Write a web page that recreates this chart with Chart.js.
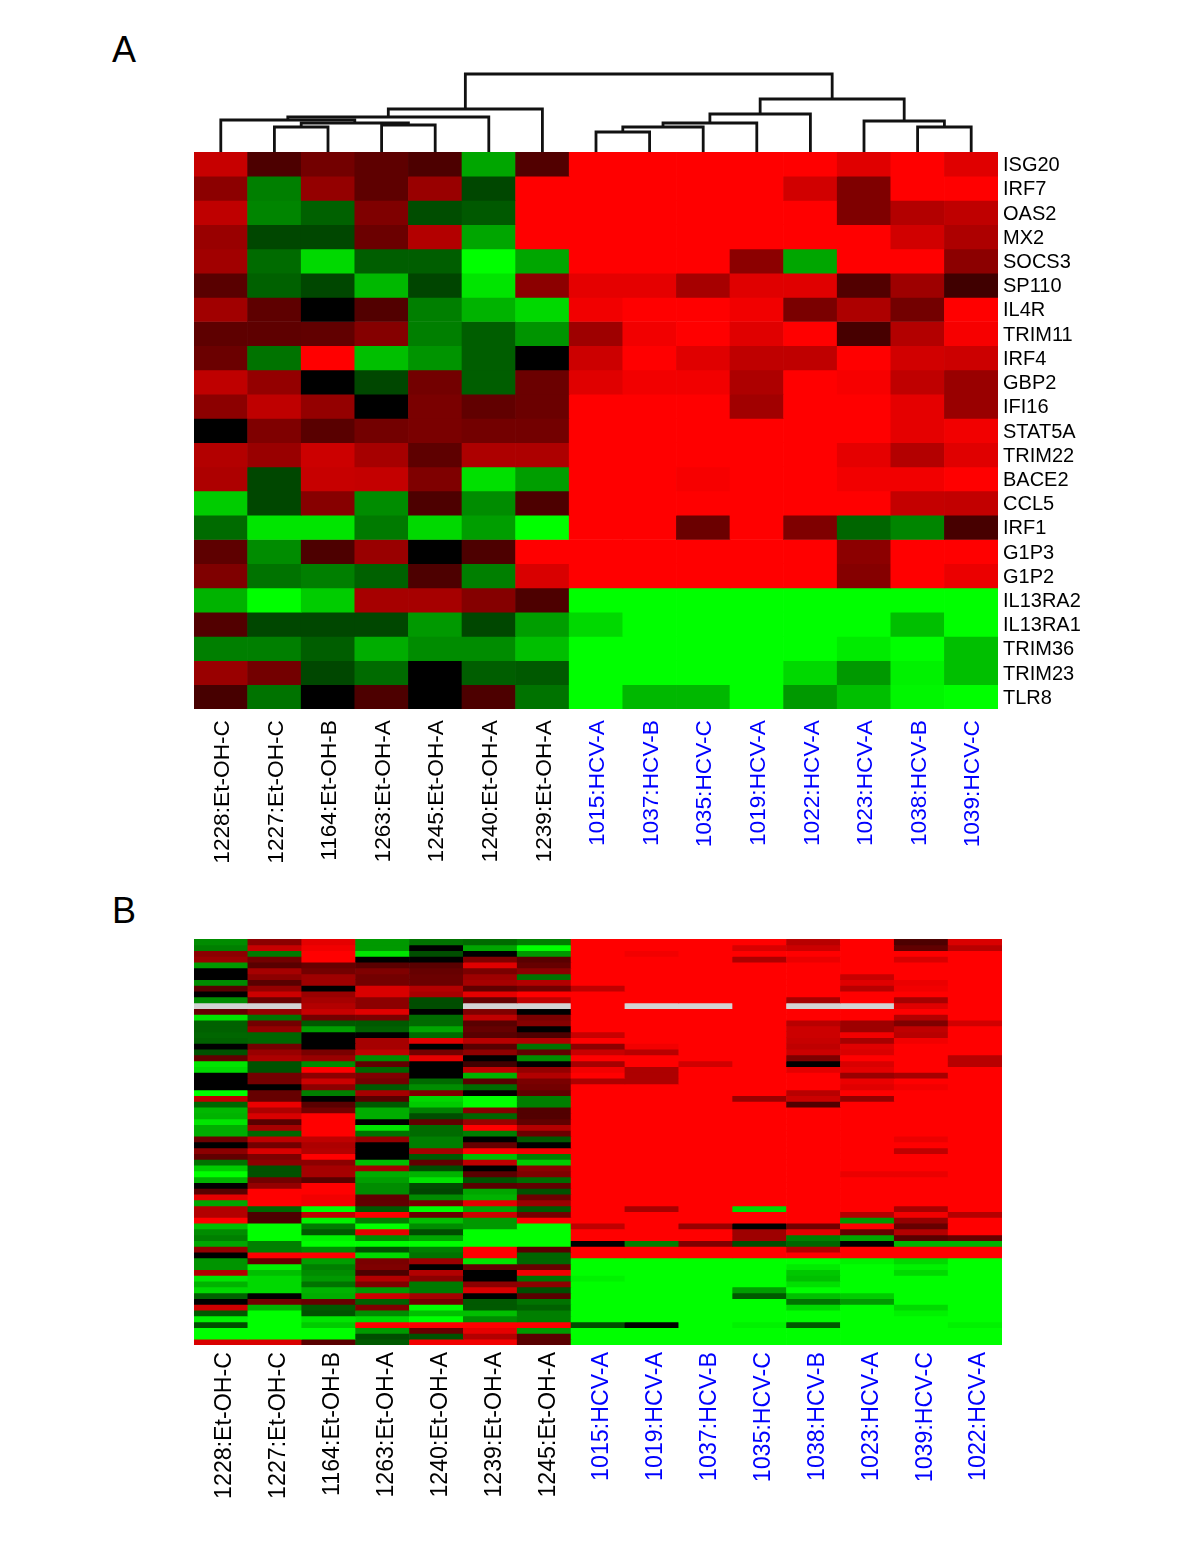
<!DOCTYPE html>
<html>
<head>
<meta charset="utf-8">
<title>Heatmaps</title>
<script src="https://cdn.jsdelivr.net/npm/chart.js@4"></script>
<style>
  html, body { margin: 0; background: #fff; }
  body { position: relative; width: 1200px; height: 1553px; overflow: hidden; }
  canvas { position: absolute; }
  .panel { position: absolute; left: 112px; font: 36px "Liberation Sans", Arial, sans-serif; line-height: 36px; color: #000; }
</style>
</head>
<body>
<div class="panel" style="top:32px">A</div>
<div class="panel" style="top:893px">B</div>
<canvas id="dendroA" width="804" height="92" style="left:194px;top:60px"></canvas>
<canvas id="heatA" width="1200" height="730" style="left:0;top:152px"></canvas>
<canvas id="heatB" width="1200" height="600" style="left:0;top:939px"></canvas>

<script>
const samplesA = ['1228:Et-OH-C', '1227:Et-OH-C', '1164:Et-OH-B', '1263:Et-OH-A', '1245:Et-OH-A', '1240:Et-OH-A', '1239:Et-OH-A',
  '1015:HCV-A', '1037:HCV-B', '1035:HCV-C', '1019:HCV-A', '1022:HCV-A', '1023:HCV-A', '1038:HCV-B', '1039:HCV-C'];
const samplesB = ['1228:Et-OH-C', '1227:Et-OH-C', '1164:Et-OH-B', '1263:Et-OH-A', '1240:Et-OH-A', '1239:Et-OH-A', '1245:Et-OH-A',
  '1015:HCV-A', '1019:HCV-A', '1037:HCV-B', '1035:HCV-C', '1038:HCV-B', '1023:HCV-A', '1039:HCV-C', '1022:HCV-A'];
const genesA = ['ISG20', 'IRF7', 'OAS2', 'MX2', 'SOCS3', 'SP110', 'IL4R', 'TRIM11', 'IRF4', 'GBP2', 'IFI16', 'STAT5A',
  'TRIM22', 'BACE2', 'CCL5', 'IRF1', 'G1P3', 'G1P2', 'IL13RA2', 'IL13RA1', 'TRIM36', 'TRIM23', 'TLR8'];

// panel A, one line per gene: + is red, - is green, 0 is black
const exprA = [
  [78, 30, 45, 37, 30, -65, 32, 100, 100, 100, 100, 100, 88, 100, 88],
  [55, -50, 58, 37, 60, -28, 100, 100, 100, 100, 100, 82, 50, 100, 100],
  [75, -52, -38, 50, -30, -35, 100, 100, 100, 100, 100, 100, 50, 70, 75],
  [60, -28, -28, 42, 70, -65, 100, 100, 100, 100, 100, 100, 100, 82, 68],
  [63, -42, -85, -37, -37, -100, -65, 100, 100, 100, 55, -65, 100, 100, 55],
  [35, -38, -28, -72, -27, -90, 55, 90, 90, 65, 88, 88, 32, 62, 25],
  [63, 37, 0, 32, -50, -70, -85, 95, 100, 100, 95, 48, 68, 45, 100],
  [37, 37, 38, 52, -50, -37, -58, 62, 95, 100, 88, 100, 28, 70, 97],
  [42, -45, 100, -75, -58, -37, 0, 80, 100, 88, 75, 75, 100, 82, 80],
  [75, 58, 0, -28, 45, -37, 42, 88, 95, 95, 68, 100, 97, 75, 60],
  [55, 75, 58, 0, 48, 38, 42, 100, 100, 100, 63, 100, 100, 90, 60],
  [0, 50, 35, 45, 48, 45, 45, 100, 100, 100, 100, 100, 100, 90, 95],
  [70, 60, 80, 65, 37, 68, 68, 100, 100, 100, 100, 100, 90, 70, 88],
  [68, -28, 78, 77, 50, -88, -62, 100, 100, 97, 100, 100, 95, 95, 100],
  [-80, -28, 53, -55, 30, -55, 30, 100, 100, 100, 100, 100, 100, 77, 76],
  [-42, -90, -90, -48, -85, -62, -100, 100, 100, 42, 100, 50, -40, -52, 28],
  [37, -55, 30, 60, 0, 30, 100, 100, 100, 100, 100, 100, 55, 100, 100],
  [50, -45, -50, -38, 30, -50, 85, 100, 100, 100, 100, 100, 52, 100, 92],
  [-70, -100, -80, 65, 65, 52, 30, -100, -100, -100, -100, -100, -100, -100, -100],
  [32, -28, -28, -28, -60, -28, -62, -85, -100, -100, -100, -100, -100, -75, -100],
  [-50, -50, -37, -68, -55, -55, -75, -100, -100, -100, -100, -100, -92, -100, -75],
  [60, 45, -28, -42, 0, -37, -35, -100, -100, -100, -100, -85, -60, -95, -75],
  [28, -45, 0, 30, 0, 30, -45, -100, -72, -72, -100, -60, -75, -97, -100]
];

// panel B, one block per sample, 70 rows top to bottom, null is a missing value
const exprB = [
  [-55, -50, 55, 60, -60, 0, 0, -55, 35, 0,
   -55, null, 40, -90, -38, -38, -40, -38, 0, -32,
   38, -90, -85, 0, 0, 0, -100, 75, -40, -72,
   -70, -90, -68, -68, 42, 0, 55, 38, -45, -80,
   -100, -70, 0, 35, 90, -65, 70, 70, 100, -75,
   -55, -50, -65, 58, 0, -58, -58, 70, -90, -70,
   -85, -38, 0, 80, -35, -95, -30, -100, -100, 85],
  [55, 78, -48, 45, 35, 65, 55, 35, 58, 80,
   42, null, 58, -45, 45, 58, -40, -40, 45, 60,
   68, -32, -32, 45, 45, 0, 40, 40, 92, 68,
   85, 35, 65, -40, 75, 45, 85, 50, 55, -32,
   -32, 45, 58, 100, 100, 100, -40, 30, 30, -100,
   -100, -100, -50, -50, 100, 40, -95, -75, -85, -85,
   -85, 0, 45, -70, -100, -100, -100, -100, -100, 85],
  [90, 95, 100, 100, 40, 45, 62, 62, 0, 60,
   65, 70, 78, 45, -35, -62, 0, 0, 0, 48,
   60, -55, 100, 55, 80, 55, -50, 0, 35, 45,
   100, 100, 100, 100, 75, 68, 70, 100, 55, 65,
   65, 35, 100, 100, 95, 95, -100, 75, -95, -48,
   -35, -95, -100, -55, 100, -62, -50, -55, -60, -45,
   -70, -68, 40, -35, -32, -90, -80, -100, -100, 35],
  [-60, -60, -90, 0, 35, 50, 45, 45, 85, 85,
   55, 55, 88, 48, -35, -38, 0, 65, 65, 75,
   -55, 38, -40, 50, 45, -35, 65, 35, -35, -68,
   -68, 0, -90, -45, 58, 0, 0, 0, -75, 65,
   -68, -62, -55, -55, 38, 38, -35, 100, -50, -100,
   90, -55, -100, -32, -85, 48, 50, 30, 70, 50,
   -60, 80, -38, 50, -55, -85, 100, -60, -30, -35],
  [-45, 0, -30, 0, 35, 40, 42, 42, 70, 65,
   -30, -30, 0, -42, -42, -65, -42, 90, 0, 45,
   90, 0, 0, 0, -42, -55, 50, -85, -80, -50,
   -30, 38, -42, -42, -50, -50, 65, -35, 38, -30,
   -70, -90, -30, -28, -55, 48, -100, 40, -75, -55,
   -30, -65, -100, -50, -45, 60, 0, 70, 55, -48,
   -48, 65, 45, -100, -75, -100, 100, 40, -32, 95],
  [-42, -65, 0, 50, 88, 48, 62, 65, 38, 90,
   40, null, 50, 75, 35, 40, 35, 72, 35, 55,
   0, 25, 75, -70, 35, -42, 0, -100, -100, 52,
   -40, 60, 100, -50, 0, 40, 100, -75, 75, 0,
   35, -32, 35, -65, -70, 90, -65, 80, -60, -60,
   -100, -100, -100, 100, 100, -90, 38, 0, 0, 55,
   85, 0, -35, -35, -75, -55, 100, 90, 70, 95],
  [-50, -100, -60, 35, 40, 55, -45, 70, 45, 100,
   75, null, 0, 48, 52, 0, 30, 70, -45, 38,
   -55, 0, 58, 70, 48, 45, 38, -50, -50, 32,
   32, 38, 70, 42, -35, 0, 95, -50, -80, 55,
   50, -42, 38, -32, 42, 60, -35, 45, 100, -100,
   -100, -100, -100, 35, -40, -40, 40, 95, -45, 55,
   -30, 35, -45, -38, -50, -50, 100, -60, 35, 35],
  [100, 100, 100, 100, 100, 100, 100, 100, 75, 100,
   100, 100, 100, 100, 100, 100, 78, 100, 55, 78,
   100, 65, 95, 100, 68, 100, 100, 100, 100, 100,
   100, 100, 100, 100, 100, 100, 100, 100, 100, 100,
   100, 100, 100, 100, 100, 100, 100, 100, 100, 75,
   100, 100, 0, 100, 100, -100, -100, -100, -95, -100,
   -100, -100, -100, -100, -100, -100, -30, -100, -100, -100],
  [100, 100, 95, 100, 100, 100, 100, 100, 100, 100,
   100, null, 100, 100, 100, 100, 100, 100, 95, 72,
   100, 100, 68, 68, 68, 100, 100, 100, 100, 100,
   100, 100, 100, 100, 100, 100, 100, 100, 100, 100,
   100, 100, 100, 100, 100, 100, 65, 100, 100, 100,
   100, 100, -50, 100, 100, -100, -100, -100, -100, -100,
   -100, -100, -100, -100, -100, -100, 0, -100, -100, -100],
  [100, 100, 100, 100, 100, 100, 100, 100, 100, 100,
   100, null, 100, 100, 100, 100, 100, 100, 100, 100,
   100, 82, 100, 100, 100, 100, 100, 100, 100, 100,
   100, 100, 100, 100, 100, 100, 100, 100, 100, 100,
   100, 100, 100, 100, 100, 100, 100, 100, 100, 60,
   100, 100, 50, 100, 100, -100, -100, -100, -100, -100,
   -100, -100, -100, -100, -100, -100, -100, -100, -100, -100],
  [100, 85, 100, 68, 100, 100, 100, 100, 100, 100,
   100, 100, 100, 100, 100, 100, 100, 100, 100, 100,
   100, 100, 100, 100, 100, 100, 100, 60, 100, 100,
   100, 100, 100, 100, 100, 100, 100, 100, 100, 100,
   100, 100, 100, 100, 100, 100, -85, 100, 100, 0,
   62, 62, -30, 100, 100, -100, -100, -100, -100, -100,
   -62, -35, -100, -100, -100, -100, -95, -100, -100, -100],
  [72, 80, 100, 92, 100, 100, 100, 100, 100, 100,
   65, null, 100, 100, 72, 80, 80, 78, 75, 80,
   50, 0, 90, 100, 100, 100, 72, 80, 32, 100,
   100, 100, 100, 100, 100, 100, 100, 100, 100, 100,
   100, 100, 100, 100, 100, 100, 100, 100, 100, 45,
   90, -50, -40, 70, 100, -100, -92, -78, -75, -88,
   -100, -75, -45, -85, -100, -100, -35, -100, -100, -100],
  [100, 100, 100, 100, 100, 100, 78, 88, 72, 100,
   100, null, 100, 100, 62, 62, 95, 65, 88, 85,
   100, 85, 90, 60, 92, 88, 100, 58, 100, 100,
   100, 100, 100, 100, 100, 100, 100, 100, 100, 100,
   92, 100, 100, 100, 100, 100, 100, 70, -60, 100,
   40, -65, 0, 100, 100, -95, -100, -100, -100, -100,
   -100, -80, -60, -100, -100, -100, -100, -100, -100, -100],
  [30, 38, 100, 85, 100, 100, 100, 92, 95, 100,
   65, 88, 100, 70, 50, 75, 72, 95, 100, 100,
   100, 100, 100, 65, 100, 95, 100, 100, 100, 100,
   100, 100, 100, 100, 92, 100, 75, 100, 100, 100,
   92, 100, 100, 100, 100, 100, 65, 95, 58, 40,
   70, 35, -70, 100, 100, -85, -95, -85, -100, -100,
   -100, -100, -100, -85, -95, -100, -100, -100, -100, -100],
  [85, 72, 100, 100, 100, 100, 100, 100, 100, 100,
   100, 100, 100, 100, 82, 100, 100, 100, 100, 100,
   72, 72, 100, 100, 100, 100, 100, 100, 100, 100,
   100, 100, 100, 100, 100, 100, 100, 100, 100, 100,
   100, 100, 100, 100, 100, 100, 100, 70, 100, 100,
   100, 40, -70, 100, 100, -100, -100, -100, -100, -100,
   -100, -100, -100, -100, -100, -100, -95, -100, -100, -100]
];

// dendrogram of panel A, hclust style: negative = leaf number, positive = earlier merge
const mergesA = [[-8, -9], [1, -10], [-14, -15], [2, -11], [-2, -3], [-4, -5], [5, 6], [-13, 3], [-1, 7], [4, -12], [9, -6], [8, 10], [11, -7], [13, 12]];
const mergeHeightsA = [20, 25, 25, 29, 25, 27, 29, 31, 32, 38, 35, 53, 43, 78];

const missingColor = '#d3d3d3';

function cellColor(v) {
  if (v === null) return missingColor;
  const level = Math.round(Math.abs(v) * 2.55);
  return v > 0 ? `rgb(${level},0,0)` : `rgb(0,${level},0)`;
}

function drawHeatmap(id, samples, rows, genes, plotRight, plotHeight, tickStyle) {
  const canvas = document.getElementById(id);
  const scales = {
    x: {
      stacked: true,
      offset: true,
      grid: { display: false, drawTicks: false },
      border: { display: false },
      ticks: {
        autoSkip: false,
        minRotation: 90,
        maxRotation: 90,
        padding: tickStyle.padding,
        labelOffset: tickStyle.shift,
        font: { family: '"Liberation Sans"', size: tickStyle.size },
        color: ctx => samples[ctx.index].includes('HCV') ? '#0000ff' : '#000000'
      },
      afterFit: s => { s.height = canvas.height - plotHeight; }
    },
    y: { stacked: true, display: false, reverse: true, min: 0, max: rows.length }
  };
  if (genes) {
    scales.genes = {
      type: 'category',
      position: 'right',
      labels: genes,
      offset: true,
      grid: { display: false, drawTicks: false },
      border: { display: false },
      ticks: { autoSkip: false, padding: 5, labelOffset: 1.5, font: { family: '"Liberation Sans"', size: 20 }, color: '#000' },
      afterFit: s => {
        s.width = canvas.width - plotRight;
        // no extra room for the half labels, the plot has to start at the canvas top
        s.paddingTop = 0;
        s.paddingBottom = 0;
      }
    };
  }
  new Chart(canvas, {
    type: 'bar',
    data: {
      labels: samples,
      datasets: rows.map(row => ({
        data: row.map(() => 1),
        backgroundColor: row.map(cellColor),
        borderWidth: 0,
        barPercentage: 1,
        categoryPercentage: 1
      }))
    },
    options: {
      responsive: false,
      animation: false,
      layout: {
        autoPadding: false,
        padding: { left: 194, right: genes ? 0 : canvas.width - plotRight, top: 0, bottom: 0 }
      },
      plugins: { legend: { display: false }, tooltip: { enabled: false } },
      scales
    }
  });
}

function drawDendrogram(id, merges, heights) {
  const nodes = [];
  const place = ref => ref < 0 ? { x: -ref - 0.5, h: 0 } : nodes[ref - 1];
  const datasets = merges.map((pair, i) => {
    const a = place(pair[0]);
    const b = place(pair[1]);
    nodes.push({ x: (a.x + b.x) / 2, h: heights[i] });
    return {
      data: [{ x: a.x, y: a.h }, { x: a.x, y: heights[i] }, { x: b.x, y: heights[i] }, { x: b.x, y: b.h }],
      showLine: true,
      borderColor: '#111',
      borderWidth: 2.8,
      pointRadius: 0,
      tension: 0
    };
  });
  new Chart(document.getElementById(id), {
    type: 'scatter',
    data: { datasets },
    options: {
      responsive: false,
      animation: false,
      layout: { autoPadding: false, padding: 0 },
      plugins: { legend: { display: false }, tooltip: { enabled: false } },
      scales: {
        x: { display: false, min: 0, max: 15 },
        y: { display: false, min: 0, max: 92 }
      }
    }
  });
}

const rowsB = exprB[0].map((_, r) => exprB.map(col => col[r]));

drawDendrogram('dendroA', mergesA, mergeHeightsA);
drawHeatmap('heatA', samplesA, exprA, genesA, 998, 557, { padding: 11, shift: 2, size: 22.7 });
drawHeatmap('heatB', samplesB, rowsB, null, 1002, 406, { padding: 7, shift: 4, size: 23.2 });
</script>
</body>
</html>
